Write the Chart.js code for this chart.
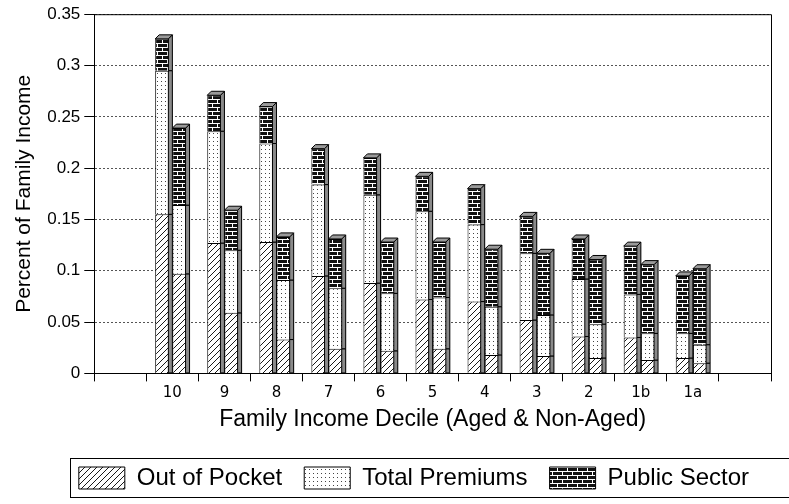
<!DOCTYPE html>
<html>
<head>
<meta charset="utf-8">
<script src="https://cdn.jsdelivr.net/npm/chart.js@4"></script>
<style>
  body { margin: 0; background: #fff; }
  #wrap { width: 789px; height: 504px; }
</style>
</head>
<body>
<div id="wrap"><canvas id="myChart"></canvas></div>
<script>
// income deciles, each with an aged bar (left) and a non-aged bar (right)
const deciles = ['10', '9', '8', '7', '6', '5', '4', '3', '2', '1b', '1a'];
const seriesNames = ['Out of Pocket', 'Total Premiums', 'Public Sector'];

// layer heights (share of family income)
const agedPocket    = [0.155, 0.127, 0.128, 0.095, 0.088, 0.072, 0.070, 0.052, 0.036, 0.035, 0.015];
const agedPremiums  = [0.140, 0.109, 0.096, 0.089, 0.086, 0.086, 0.075, 0.065, 0.056, 0.042, 0.024];
const agedPublic    = [0.031, 0.035, 0.036, 0.035, 0.036, 0.034, 0.035, 0.036, 0.039, 0.047, 0.056];
const nonAgedPocket   = [0.097, 0.059, 0.033, 0.024, 0.022, 0.024, 0.018, 0.017, 0.015, 0.013, 0.010];
const nonAgedPremiums = [0.067, 0.061, 0.058, 0.059, 0.056, 0.050, 0.047, 0.040, 0.033, 0.026, 0.018];
const nonAgedPublic   = [0.075, 0.039, 0.042, 0.048, 0.050, 0.054, 0.056, 0.060, 0.063, 0.067, 0.074];

const yTicks = [0, 0.05, 0.1, 0.15, 0.2, 0.25, 0.3, 0.35];

// empty slot at each end, like the original axis
const labels = [''].concat(deciles, ['']);
const pad = arr => [null].concat(arr, [null]);

function makePattern(kind) {
    const c = document.createElement('canvas');
    const g = c.getContext('2d');
    if (kind === 'hatch') {
        c.width = 6; c.height = 6;
        g.fillStyle = '#fff'; g.fillRect(0, 0, 6, 6);
        g.strokeStyle = '#000'; g.lineWidth = 0.9;
        g.beginPath();
        g.moveTo(-1, 7); g.lineTo(7, -1);
        g.moveTo(-1, 1); g.lineTo(1, -1);
        g.moveTo(5, 7); g.lineTo(7, 5);
        g.stroke();
    } else if (kind === 'dots') {
        c.width = 4; c.height = 4;
        g.fillStyle = '#fff'; g.fillRect(0, 0, 4, 4);
        g.fillStyle = '#444'; g.fillRect(1, 1, 1, 1);
    } else {
        c.width = 10; c.height = 8;
        g.fillStyle = '#111'; g.fillRect(0, 0, 10, 8);
        g.fillStyle = '#fff';
        g.fillRect(0, 3, 10, 1);
        g.fillRect(0, 7, 10, 1);
        g.fillRect(2, 0, 1, 3);
        g.fillRect(7, 4, 1, 3);
    }
    return g.createPattern(c, 'repeat');
}

const fills = [makePattern('hatch'), makePattern('dots'), makePattern('brick')];

function layer(name, values, stack, idx) {
    return {
        label: name,
        data: pad(values),
        stack: stack,
        backgroundColor: fills[idx],
        borderColor: '#000',
        borderWidth: 1
    };
}

// gray side and top faces to give the bars some depth
const depth = {
    id: 'depth',
    afterDatasetsDraw(chart) {
        const ctx = chart.ctx;
        const d = 4;
        ctx.save();
        ctx.lineWidth = 1;
        ctx.strokeStyle = '#000';
        chart.data.datasets.forEach((ds, i) => {
            const meta = chart.getDatasetMeta(i);
            meta.data.forEach((bar, j) => {
                if (ds.data[j] == null) return;
                const p = bar.getProps(['x', 'y', 'base', 'width'], true);
                const l = p.x - p.width / 2;
                const r = p.x + p.width / 2;
                ctx.fillStyle = '#8a8a8a';
                ctx.beginPath();
                ctx.moveTo(r - d, p.base);
                ctx.lineTo(r - d, p.y);
                ctx.lineTo(r, p.y - (i % 3 === 2 ? d : 0));
                ctx.lineTo(r, p.base);
                ctx.closePath();
                ctx.fill();
                ctx.stroke();
                if (i % 3 === 2) {
                    ctx.fillStyle = '#9a9a9a';
                    ctx.beginPath();
                    ctx.moveTo(l, p.y);
                    ctx.lineTo(l + d, p.y - d);
                    ctx.lineTo(r, p.y - d);
                    ctx.lineTo(r - d, p.y);
                    ctx.closePath();
                    ctx.fill();
                    ctx.stroke();
                }
            });
        });
        ctx.restore();
    }
};

// plot frame (top and right) and the legend box
const frame = {
    id: 'frame',
    afterDraw(chart) {
        const ctx = chart.ctx;
        const a = chart.chartArea;
        ctx.save();
        ctx.strokeStyle = '#000';
        ctx.lineWidth = 1;
        ctx.beginPath();
        ctx.moveTo(a.left, a.top + 0.5);
        ctx.lineTo(a.right + 0.5, a.top + 0.5);
        ctx.lineTo(a.right + 0.5, a.bottom);
        ctx.stroke();
        const lg = chart.legend;
        const first = lg.legendHitBoxes[0];
        const x0 = Math.round(first.left) - 8.5;
        ctx.strokeRect(x0, 458.5, 800 - x0, 39);
        ctx.restore();
    }
};

new Chart(document.getElementById('myChart'), {
    type: 'bar',
    data: {
        labels: labels,
        datasets: [
            layer(seriesNames[0], agedPocket, 'aged', 0),
            layer(seriesNames[1], agedPremiums, 'aged', 1),
            layer(seriesNames[2], agedPublic, 'aged', 2),
            layer(seriesNames[0], nonAgedPocket, 'nonaged', 0),
            layer(seriesNames[1], nonAgedPremiums, 'nonaged', 1),
            layer(seriesNames[2], nonAgedPublic, 'nonaged', 2)
        ]
    },
    plugins: [depth, frame],
    options: {
        responsive: true,
        maintainAspectRatio: false,
        animation: false,
        categoryPercentage: 0.66,
        barPercentage: 1.0,
        layout: { padding: { top: 0, right: 18, bottom: 4, left: 12 } },
        plugins: {
            tooltip: { enabled: false },
            legend: {
                position: 'bottom',
                align: 'end',
                labels: {
                    filter: item => item.datasetIndex < 3,
                    boxWidth: 46,
                    boxHeight: 22,
                    padding: 22,
                    color: '#000',
                    font: { family: 'Liberation Sans', size: 24 }
                }
            }
        },
        scales: {
            x: {
                stacked: true,
                grid: { display: true, drawOnChartArea: false, color: '#000', tickLength: 8 },
                border: { color: '#000' },
                ticks: {
                    color: '#000',
                    maxRotation: 0,
                    font: { family: 'DejaVu Sans', size: 15 }
                },
                title: {
                    display: true,
                    text: 'Family Income Decile (Aged & Non-Aged)',
                    color: '#000',
                    font: { family: 'Liberation Sans', size: 23 },
                    padding: { top: 0, bottom: 11 }
                }
            },
            y: {
                stacked: true,
                min: 0,
                max: 0.35,
                afterBuildTicks: axis => { axis.ticks = yTicks.map(v => ({ value: v })); },
                grid: { color: '#555', tickColor: '#000', tickLength: 10 },
                border: { color: '#000', dash: [2, 2] },
                ticks: {
                    color: '#000',
                    padding: 4,
                    font: { family: 'Liberation Sans', size: 17 },
                    callback: v => String(Number(v.toFixed(2)))
                },
                title: {
                    display: true,
                    text: 'Percent of Family Income',
                    color: '#000',
                    font: { family: 'Liberation Sans', size: 21 },
                    padding: { top: 0, bottom: 6 }
                }
            }
        }
    }
});
</script>
</body>
</html>
